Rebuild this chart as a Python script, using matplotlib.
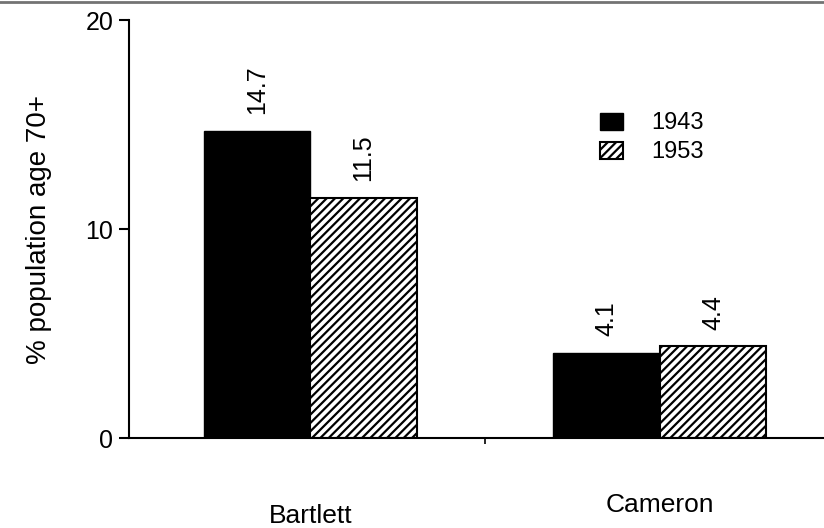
import matplotlib
matplotlib.use("Agg")
import matplotlib.pyplot as plt
import matplotlib.transforms as mtransforms
import numpy as np

plt.rcParams['font.family'] = ['Liberation Sans', 'DejaVu Sans']
plt.rcParams['hatch.linewidth'] = 1.6

towns = ['Bartlett', 'Cameron']
years = ['1943', '1953']
pct_1943 = [14.7, 4.1]
pct_1953 = [11.5, 4.4]
value_labels_1943 = ['14.7', '4.1']
value_labels_1953 = ['11.5', '4.4']

fig = plt.figure(figsize=(8.24, 5.28), dpi=100)
ax = fig.add_axes([0.156, 0.17, 0.844, 0.792])

x = np.arange(len(towns))
w = 0.305

b1 = ax.bar(x - w / 2, pct_1943, w, color='black', edgecolor='black', label=years[0])
b2 = ax.bar(x + w / 2, pct_1953, w, color='white', edgecolor='black', hatch='////',
            linewidth=1.5, label=years[1])

for bars, labs in ((b1, value_labels_1943), (b2, value_labels_1953)):
    for r, lab in zip(bars, labs):
        ax.annotate(lab, (r.get_x() + r.get_width() / 2, r.get_height()),
                    xytext=(0, 12), textcoords='offset points',
                    rotation=90, ha='center', va='bottom', fontsize=18)

ax.set_xlim(-0.52, 1.47)
ax.set_ylim(0, 20)
ax.set_yticks([0, 10, 20])
ax.tick_params(axis='y', length=7, width=1.5, labelsize=18, pad=4)
ax.set_xticks([0.5])
ax.set_xticklabels([''])
ax.tick_params(axis='x', length=4, width=1.2)

ax.spines['top'].set_visible(False)
ax.spines['right'].set_visible(False)
ax.spines['left'].set_linewidth(1.5)
ax.spines['bottom'].set_linewidth(1.5)

ax.set_ylabel('% population age 70+', fontsize=20, labelpad=24)

trans = mtransforms.blended_transform_factory(ax.transData, ax.transAxes)
ax.text(x[0], -0.185, towns[0], transform=trans, ha='center', va='center', fontsize=19)
ax.text(x[1], -0.16, towns[1], transform=trans, ha='center', va='center', fontsize=19)

ax.legend(loc='upper left', bbox_to_anchor=(0.647, 0.83), frameon=False, fontsize=17,
          handlelength=1.0, handleheight=0.75, handletextpad=1.2, labelspacing=0.3)

# scan edge at the top of the page
fig.add_artist(plt.Line2D([0, 1], [0.996, 0.996], color='0.45', lw=2, transform=fig.transFigure))

fig.savefig('out.png', dpi=100)
